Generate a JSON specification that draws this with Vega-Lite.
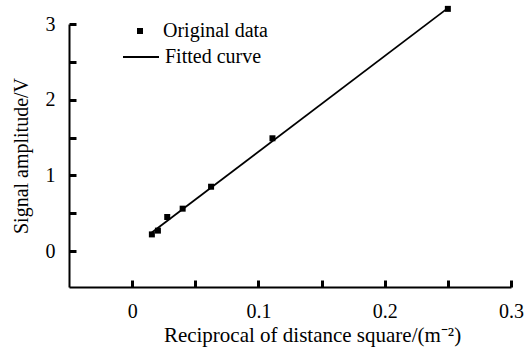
{
  "$schema": "https://vega.github.io/schema/vega-lite/v6.json",
  "width": 442,
  "height": 263,
  "autosize": {"type": "none"},
  "padding": {"left": 69, "top": 24, "right": 16, "bottom": 64},
  "background": "white",
  "config": {
    "view": {"stroke": null},
    "font": "Liberation Serif",
    "axis": {"grid": false, "domainColor": "black", "tickColor": "black", "labelColor": "black", "titleColor": "black", "labelFont": "Liberation Serif", "titleFont": "Liberation Serif", "titleFontWeight": "normal"},
    "legend": {"labelFont": "Liberation Serif", "labelColor": "black"}
  },
  "datasets": {
    "pts": [
      {"x": 0.015625, "y": 0.22, "series": "Original data"},
      {"x": 0.020408, "y": 0.27, "series": "Original data"},
      {"x": 0.027778, "y": 0.45, "series": "Original data"},
      {"x": 0.04, "y": 0.56, "series": "Original data"},
      {"x": 0.0625, "y": 0.85, "series": "Original data"},
      {"x": 0.111111, "y": 1.49, "series": "Original data"},
      {"x": 0.25, "y": 3.2, "series": "Original data"}
    ],
    "fit": [
      {"x": 0.0156, "y": 0.245, "series": "Fitted curve"},
      {"x": 0.25, "y": 3.21, "series": "Fitted curve"}
    ]
  },
  "layer": [
    {
      "data": {"name": "fit"},
      "mark": {"type": "line", "strokeWidth": 1.8, "clip": false},
      "encoding": {
        "x": {"field": "x", "type": "quantitative", "scale": {"domain": [-0.05, 0.3], "nice": false, "zero": false},
          "axis": {"orient": "top", "offset": -263, "values": [0, 0.05, 0.1, 0.15, 0.2, 0.25, 0.3], "labels": false, "domain": false, "title": null, "ticks": true, "tickSize": 7, "tickWidth": 3,
            "encode": {"ticks": {"update": {"y2": {"signal": "round(datum.value*20) % 2 == 0 ? -7 : -3"}, "strokeWidth": {"signal": "round(datum.value*20) % 2 == 0 ? 3 : 2.5"}}}}}},
        "y": {"field": "y", "type": "quantitative", "scale": {"domain": [-0.475, 3], "nice": false, "zero": false},
          "axis": {"orient": "right", "offset": -442, "values": [0, 0.5, 1, 1.5, 2, 2.5, 3], "labels": false, "domain": false, "title": null, "ticks": true, "tickSize": 7, "tickWidth": 3,
            "encode": {"ticks": {"update": {"x2": {"signal": "round(datum.value*2) % 2 == 0 ? 7 : 3"}, "strokeWidth": {"signal": "round(datum.value*2) % 2 == 0 ? 3 : 2.5"}}}}}},
        "color": {"field": "series", "type": "nominal",
          "scale": {"domain": ["Fitted curve"], "range": ["black"]},
          "legend": {"title": null, "orient": "none", "legendX": 53, "legendY": 14, "labelFontSize": 20, "labelOffset": 5, "symbolType": "stroke", "symbolSize": 1296, "symbolStrokeWidth": 1.8, "padding": 0}}
      }
    },
    {
      "data": {"name": "pts"},
      "mark": {"type": "point", "filled": true, "color": "black", "opacity": 1, "size": 36, "clip": false},
      "encoding": {
        "x": {"field": "x", "type": "quantitative",
          "axis": {"orient": "bottom", "values": [0, 0.1, 0.2, 0.3], "format": "~g", "ticks": false, "tickSize": 0, "domainWidth": 2, "labelFontSize": 20, "labelPadding": 14, "labelFlush": false, "title": "Reciprocal of distance square/(m⁻²)", "titleFontSize": 21, "titlePadding": 3, "titleX": 243, "titleAlign": "center"}},
        "y": {"field": "y", "type": "quantitative",
          "axis": {"orient": "left", "values": [0, 1, 2, 3], "format": "~g", "ticks": false, "tickSize": 0, "domainWidth": 2, "labelFontSize": 20, "labelPadding": 14, "labelFlush": false, "title": "Signal amplitude/V", "titleFontSize": 20, "titlePadding": 14}},
        "shape": {"field": "series", "type": "nominal",
          "scale": {"domain": ["Original data"], "range": ["square"]},
          "legend": {"title": null, "orient": "none", "legendX": 61, "legendY": -3, "labelFontSize": 20, "labelOffset": 13, "symbolFillColor": "black", "symbolSize": 36, "padding": 0}}
      }
    }
  ],
  "resolve": {"axis": {"x": "independent", "y": "independent"}}
}
